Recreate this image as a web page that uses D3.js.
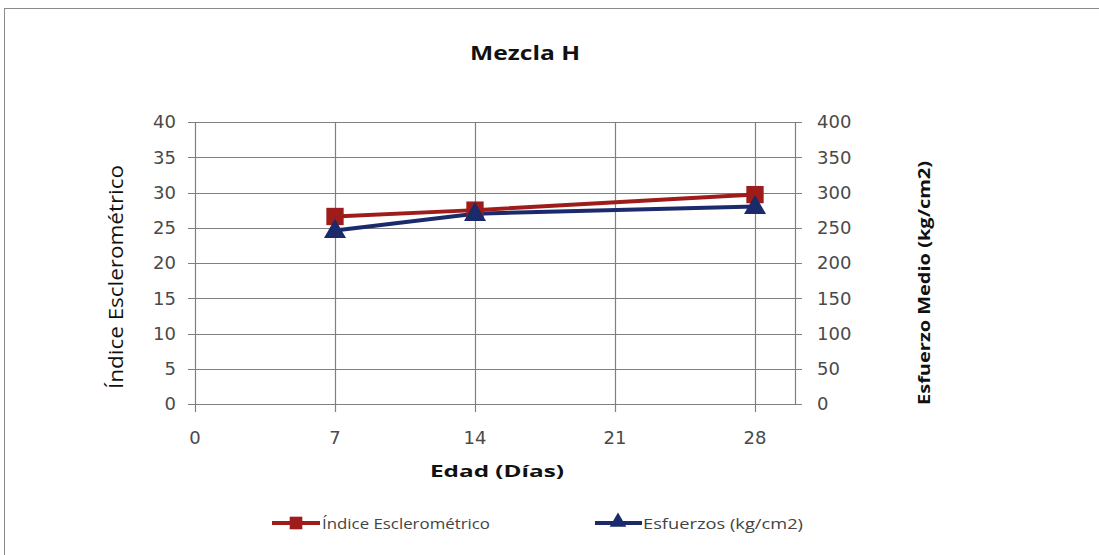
<!DOCTYPE html>
<html><head><meta charset="utf-8">
<script src="https://cdn.jsdelivr.net/npm/d3@7"></script>
<style>
html,body{margin:0;padding:0;background:#fff;}
svg{display:block;font-family:"Open Sans",sans-serif;}
</style></head>
<body><svg id="c" width="1099" height="555"></svg>
<script>
// Mezcla H: rebound index and compressive stress vs. age
const edades = [7, 14, 28];
const indiceEsclerometrico = [26.6, 27.5, 29.7];
const esfuerzos = [246, 270, 280];
const xTicks = [0, 7, 14, 21, 28];
const yLeftTicks = [0, 5, 10, 15, 20, 25, 30, 35, 40];
const yRightTicks = [0, 50, 100, 150, 200, 250, 300, 350, 400];
const colorIndice = "#9e1c1a";
const colorEsfuerzo = "#1b2a6b";

const svg = d3.select("#c");
svg.append("rect").attr("x", 4.5).attr("y", 8.5).attr("width", 1110).attr("height", 570)
  .attr("fill", "#fff").attr("stroke", "#8a8a8a");

const m = {l: 195, r: 795, t: 122, b: 404};
const x = d3.scaleLinear().domain([0, 30]).range([m.l, m.r]);
const yL = d3.scaleLinear().domain([0, 40]).range([m.b, m.t]);
const yR = d3.scaleLinear().domain([0, 400]).range([m.b, m.t]);

const grid = svg.append("g").attr("stroke", "#808080").attr("stroke-width", 1.2);
// horizontal gridlines with outer ticks on both sides
grid.selectAll("line.h").data(yLeftTicks).join("line")
  .attr("x1", m.l - 7).attr("x2", m.r + 7)
  .attr("y1", d => Math.round(yL(d)) + 0.5).attr("y2", d => Math.round(yL(d)) + 0.5);
// vertical gridlines extending below the baseline as ticks
grid.selectAll("line.v").data(xTicks.concat([30])).join("line")
  .attr("x1", d => Math.round(x(d)) + 0.5).attr("x2", d => Math.round(x(d)) + 0.5)
  .attr("y1", m.t).attr("y2", d => d === 30 ? m.b : m.b + 8);

const tickFont = 18, tickColor = "#4a4a4a";
const tickStyle = s => s.attr("font-family", "DejaVu Sans").attr("font-size", tickFont).attr("fill", tickColor);
svg.append("g").call(tickStyle).selectAll("text").data(yLeftTicks).join("text")
  .attr("x", 176).attr("y", d => yL(d)).attr("dy", "0.36em")
  .attr("text-anchor", "end").text(d => d);
svg.append("g").call(tickStyle).selectAll("text").data(yRightTicks).join("text")
  .attr("x", 817).attr("y", d => yR(d)).attr("dy", "0.36em")
  .attr("text-anchor", "start").text(d => d);
svg.append("g").call(tickStyle).selectAll("text").data(xTicks).join("text")
  .attr("x", d => x(d)).attr("y", 444)
  .attr("text-anchor", "middle").text(d => d);

// titles
const label = (t, opts) => {
  const el = svg.append("text").attr("text-anchor", "middle").attr("fill", "#111")
    .attr("font-size", opts.size).attr("font-weight", opts.bold ? "bold" : "normal")
    .attr("lengthAdjust", "spacingAndGlyphs").attr("textLength", opts.len).text(t);
  if (opts.rot) el.attr("transform", `translate(${opts.x},${opts.y}) rotate(-90)`);
  else el.attr("x", opts.x).attr("y", opts.y);
  return el;
};
label("Mezcla H", {x: 525, y: 60, size: 19, bold: true, len: 110});
label("Edad (Días)", {x: 497, y: 477, size: 16, bold: true, len: 134});
label("Índice Esclerométrico", {x: 123, y: 277, size: 20, len: 224, rot: true});
label("Esfuerzo Medio (kg/cm2)", {x: 930, y: 283, size: 16, bold: true, len: 244, rot: true});

// series
const lineL = d3.line().x((d, i) => x(edades[i])).y(d => yL(d));
const lineR = d3.line().x((d, i) => x(edades[i])).y(d => yR(d));
svg.append("path").datum(indiceEsclerometrico).attr("d", lineL)
  .attr("fill", "none").attr("stroke", colorIndice).attr("stroke-width", 4);
svg.append("path").datum(esfuerzos).attr("d", lineR)
  .attr("fill", "none").attr("stroke", colorEsfuerzo).attr("stroke-width", 4);

const sq = d3.symbol().type(d3.symbolSquare).size(300);
const tri = d3.symbol().type(d3.symbolTriangle).size(210);
svg.append("g").selectAll("path").data(indiceEsclerometrico).join("path")
  .attr("transform", (d, i) => `translate(${x(edades[i])},${yL(d)})`)
  .attr("d", sq).attr("fill", colorIndice);
svg.append("g").selectAll("path").data(esfuerzos).join("path")
  .attr("transform", (d, i) => `translate(${x(edades[i])},${yR(d) + 1})`)
  .attr("d", tri).attr("fill", colorEsfuerzo);

// legend
const leg = svg.append("g").attr("font-size", 15).attr("fill", "#444");
leg.append("line").attr("x1", 272).attr("x2", 320).attr("y1", 523).attr("y2", 523)
  .attr("stroke", colorIndice).attr("stroke-width", 4);
leg.append("path").attr("transform", "translate(296,523)").attr("d", d3.symbol().type(d3.symbolSquare).size(160)).attr("fill", colorIndice);
leg.append("text").attr("x", 322).attr("y", 529).attr("lengthAdjust", "spacingAndGlyphs").attr("textLength", 168).text("Índice Esclerométrico");
leg.append("line").attr("x1", 595).attr("x2", 642).attr("y1", 523).attr("y2", 523)
  .attr("stroke", colorEsfuerzo).attr("stroke-width", 4);
leg.append("path").attr("transform", "translate(618,522)").attr("d", d3.symbol().type(d3.symbolTriangle).size(120)).attr("fill", colorEsfuerzo);
leg.append("text").attr("x", 643).attr("y", 529).attr("lengthAdjust", "spacingAndGlyphs").attr("textLength", 160).text("Esfuerzos (kg/cm2)");
</script></body></html>
